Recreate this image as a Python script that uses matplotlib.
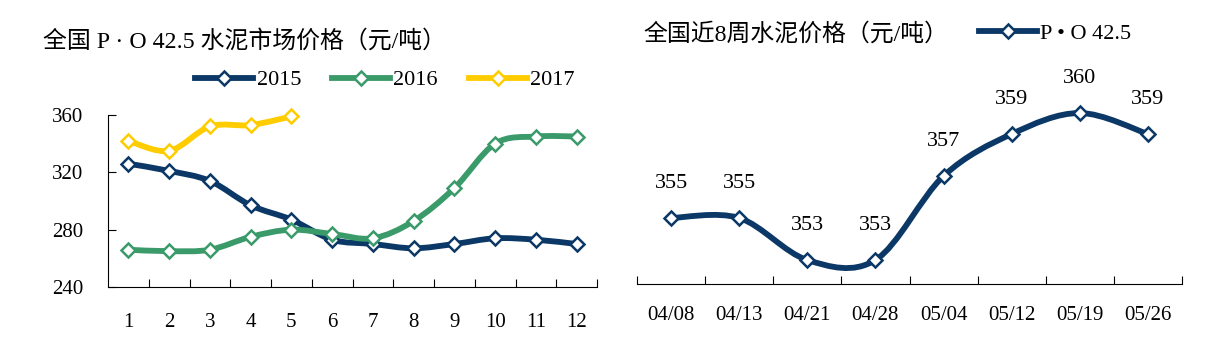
import matplotlib
matplotlib.use("Agg")
import matplotlib.pyplot as plt
import numpy as np
from matplotlib.path import Path
from matplotlib.patches import PathPatch
from matplotlib.lines import Line2D

# ---- data ----
months = list(range(1, 13))
price_2015 = [326, 321, 314, 297, 287, 273, 270, 267, 270, 274, 273, 270]
price_2016 = [266, 265, 266, 275, 280, 277, 274, 286, 309, 340, 345, 345]
price_2017 = [342, 335, 352, 353, 359]

weeks = ["04/08", "04/13", "04/21", "04/28", "05/04", "05/12", "05/19", "05/26"]
weekly_price = [355, 355, 353, 353, 357, 359, 360, 359]

# ---- style ----
NAVY = "#0B3866"
GREEN = "#3A9A6A"
YELLOW = "#FFCC00"
FONTS = ["Liberation Serif", "Noto Sans CJK SC", "DejaVu Sans"]
plt.rcParams["font.family"] = FONTS
plt.rcParams["axes.unicode_minus"] = False

LW = 4.2
MS = 7.2
MEW = 1.8


def smooth_path(x, y):
    """Cubic Bezier path passing through every (x, y) point (Catmull-Rom style)."""
    pts = np.column_stack([x, y]).astype(float)
    n = len(pts)
    verts = [pts[0]]
    codes = [Path.MOVETO]
    for i in range(n - 1):
        p0 = pts[max(i - 1, 0)]
        p1 = pts[i]
        p2 = pts[i + 1]
        p3 = pts[min(i + 2, n - 1)]
        verts += [p1 + (p2 - p0) / 6.0, p2 - (p3 - p1) / 6.0, p2]
        codes += [Path.CURVE4] * 3
    return Path(verts, codes)


def draw_series(ax, x, y, color, z):
    patch = PathPatch(smooth_path(x, y), facecolor="none", edgecolor=color,
                      lw=LW, capstyle="round", joinstyle="round",
                      transform=ax.transData, zorder=z, clip_on=False)
    ax.add_patch(patch)
    ax.plot(x, y, ls="none", marker="D", ms=MS, mfc="white", mec=color,
            mew=MEW, zorder=z + 0.5, clip_on=False)


def series_handle(color, label):
    return Line2D([], [], color=color, lw=LW, marker="D", ms=MS,
                  mfc="white", mec=color, mew=MEW, label=label)


fig = plt.figure(figsize=(12.06, 3.5), dpi=100)

# ---------------- left: monthly prices by year ----------------
ax1 = fig.add_axes([108 / 1206, 1 - 287 / 350, 489 / 1206, 172 / 350])
draw_series(ax1, months, price_2015, NAVY, 2)
draw_series(ax1, months, price_2016, GREEN, 3)
draw_series(ax1, months[:len(price_2017)], price_2017, YELLOW, 4)

ax1.set_xlim(0.5, 12.5)
ax1.set_ylim(240, 360)
ax1.set_yticks([240, 280, 320, 360])
ax1.set_xticks(np.arange(1.5, 13, 1.0))
ax1.set_xticklabels([])
ax1.set_xticks(months, minor=True)
ax1.set_xticklabels([str(m) for m in months], minor=True)
ax1.tick_params(axis="x", which="major", direction="in", length=6,
                width=0.8, color="black")
ax1.tick_params(axis="x", which="minor", length=0, pad=19, labelsize=15)
ax1.tick_params(axis="y", direction="in", length=6, width=0.8, pad=18,
                labelsize=15)
for s in ("top", "right"):
    ax1.spines[s].set_visible(False)
for s in ("left", "bottom"):
    ax1.spines[s].set_linewidth(0.8)
    ax1.spines[s].set_color("black")

fig.text(43 / 1206, 1 - 41 / 350, "全国 P · O 42.5 水泥市场价格（元/吨）",
         fontsize=17.2, ha="left", va="center")
fig.legend(handles=[series_handle(NAVY, "2015"), series_handle(GREEN, "2016"),
                    series_handle(YELLOW, "2017")],
           loc="center", bbox_to_anchor=(385 / 1206, 1 - 80 / 350), ncol=3,
           frameon=False, fontsize=16, handlelength=2.6, handletextpad=0.15,
           columnspacing=1.4, borderpad=0, borderaxespad=0)

# ---------------- right: last 8 weeks ----------------
ax2 = fig.add_axes([637 / 1206, 1 - 284 / 350, 545 / 1206, 224 / 350])
wx = np.arange(len(weeks))
draw_series(ax2, wx, weekly_price, NAVY, 2)
for xi, v in zip(wx, weekly_price):
    ax2.annotate(str(v), (xi, v), xytext=(0, 25), textcoords="offset points",
                 ha="center", va="center", fontsize=16)

ax2.set_xlim(-0.5, len(weeks) - 0.5)
ax2.set_ylim(351.857, 362.524)
ax2.set_yticks([])
ax2.set_xticks(np.arange(-0.5, len(weeks), 1.0))
ax2.set_xticklabels([])
ax2.set_xticks(wx, minor=True)
ax2.set_xticklabels(weeks, minor=True)
ax2.tick_params(axis="x", which="major", direction="in", length=6,
                width=0.8, color="black")
ax2.tick_params(axis="x", which="minor", length=0, pad=16, labelsize=15)
for s in ("top", "right", "left"):
    ax2.spines[s].set_visible(False)
ax2.spines["bottom"].set_linewidth(0.8)
ax2.spines["bottom"].set_color("black")

fig.text(643 / 1206, 1 - 34 / 350, "全国近8周水泥价格（元/吨）",
         fontsize=17.2, ha="left", va="center")
fig.legend(handles=[series_handle(NAVY, "P • O 42.5")],
           loc="center", bbox_to_anchor=(1055 / 1206, 1 - 34 / 350),
           frameon=False, fontsize=16, handlelength=2.6, handletextpad=0.15,
           borderpad=0, borderaxespad=0)

fig.savefig("out.png", dpi=100)
